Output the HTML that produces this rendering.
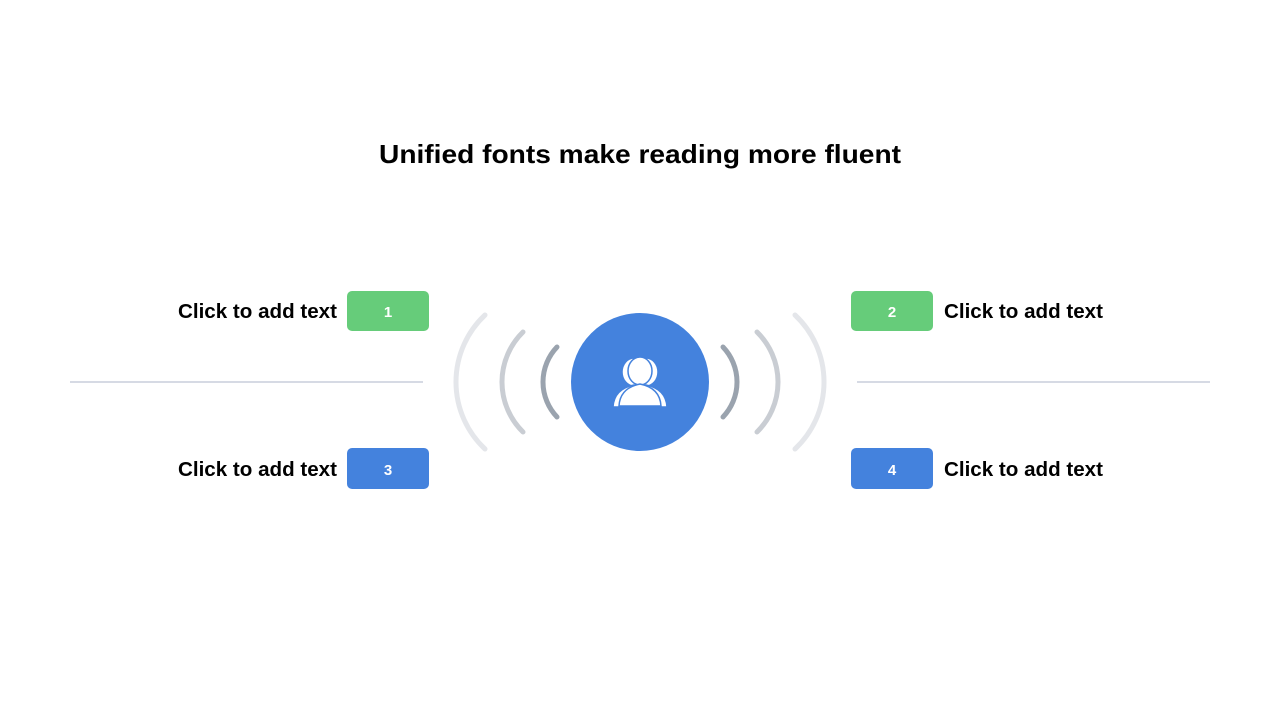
<!DOCTYPE html>
<html><head><meta charset="utf-8"><style>
html,body{margin:0;padding:0;background:#fff;}
svg{display:block;}
text{font-family:"Liberation Sans",sans-serif;font-weight:bold;}
</style></head><body>
<svg width="1280" height="720" viewBox="0 0 1280 720" xmlns="http://www.w3.org/2000/svg">
<defs>
<g id="p"><ellipse cx="640" cy="372" rx="12" ry="14"/><path d="M619 407 Q620 389 640 385 Q660 389 661 407 Z"/></g>
</defs>
<text x="640" y="163" text-anchor="middle" font-size="26" fill="#000" textLength="522" lengthAdjust="spacingAndGlyphs">Unified fonts make reading more fluent</text>
<line x1="70" y1="382" x2="423" y2="382" stroke="#c9cedb" stroke-width="1.5"/>
<line x1="857" y1="382" x2="1210" y2="382" stroke="#c9cedb" stroke-width="1.5"/>
<g fill="none" stroke-linecap="round" stroke-width="5">
<path d="M557 347 A50.75 50.75 0 0 0 557 417" stroke="#9aa3ae"/>
<path d="M523 332 A70 70 0 0 0 523 432" stroke="#c9cdd3"/>
<path d="M485 315 A91.9 91.9 0 0 0 485 449" stroke="#e4e6ea"/>
<path d="M723 347 A50.75 50.75 0 0 1 723 417" stroke="#9aa3ae"/>
<path d="M757 332 A70 70 0 0 1 757 432" stroke="#c9cdd3"/>
<path d="M795 315 A91.9 91.9 0 0 1 795 449" stroke="#e4e6ea"/>
</g>
<circle cx="640" cy="382" r="69" fill="#4482dd"/>
<g fill="#fff" stroke="#4482dd" stroke-width="1.5">
<use href="#p" transform="translate(-6,0)"/>
<use href="#p" transform="translate(6,0)"/>
<use href="#p" transform="translate(0,-1)"/>
</g>
<rect x="347" y="291" width="82" height="40" rx="5" fill="#66cc7a"/>
<rect x="851" y="291" width="82" height="40" rx="5" fill="#66cc7a"/>
<rect x="347" y="448" width="82" height="41" rx="5" fill="#4482dd"/>
<rect x="851" y="448" width="82" height="41" rx="5" fill="#4482dd"/>
<g fill="#fff" font-size="15" text-anchor="middle">
<text x="388" y="317">1</text><text x="892" y="317">2</text>
<text x="388" y="475">3</text><text x="892" y="475">4</text>
</g>
<g fill="#000" font-size="20">
<text x="178" y="318" textLength="159" lengthAdjust="spacingAndGlyphs">Click to add text</text>
<text x="944" y="318" textLength="159" lengthAdjust="spacingAndGlyphs">Click to add text</text>
<text x="178" y="476" textLength="159" lengthAdjust="spacingAndGlyphs">Click to add text</text>
<text x="944" y="476" textLength="159" lengthAdjust="spacingAndGlyphs">Click to add text</text>
</g>
</svg>
</body></html>
